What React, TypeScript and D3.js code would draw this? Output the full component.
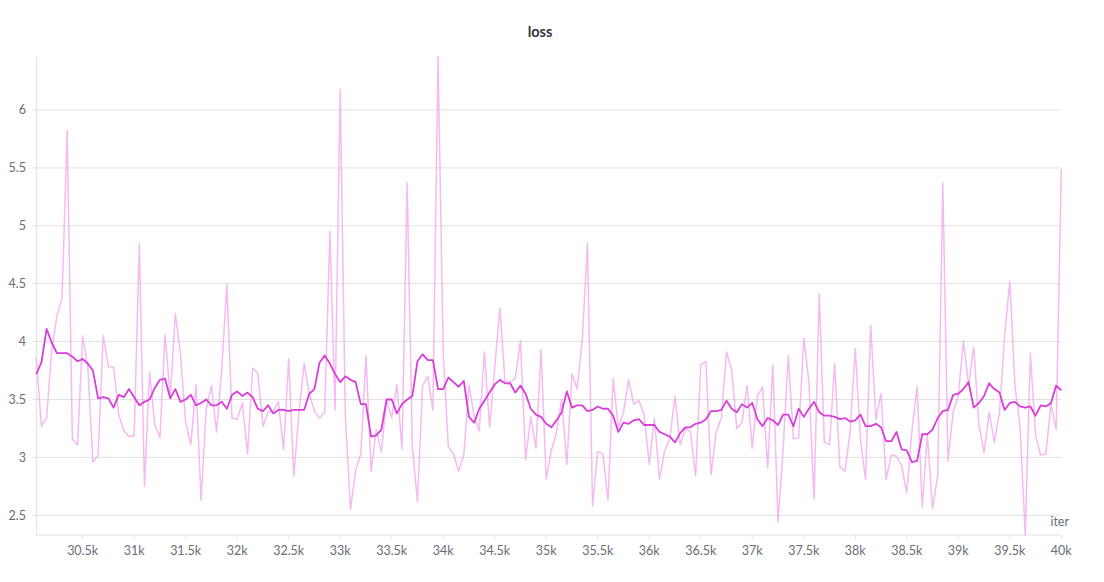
import * as d3 from "d3";

const iterStart = 30050;
const iterStep = 50;

const rawLoss = [
  3.86, 3.27, 3.34, 3.93, 4.22, 4.38, 5.82, 3.16, 3.11, 4.05,
  3.78, 2.96, 3.02, 4.05, 3.78, 3.78, 3.37, 3.23, 3.18, 3.19,
  4.85, 2.75, 3.74, 3.28, 3.17, 4.06, 3.52, 4.24, 3.89, 3.3,
  3.11, 3.63, 2.63, 3.42, 3.62, 3.22, 3.76, 4.49, 3.34, 3.33,
  3.47, 3.03, 3.77, 3.73, 3.27, 3.39, 3.4, 3.48, 3.07, 3.85,
  2.84, 3.39, 3.81, 3.55, 3.4, 3.34, 3.39, 4.95, 3.41, 6.18,
  3.35, 2.55, 2.89, 3.03, 3.88, 2.88, 3.24, 3.05, 3.5, 3.34,
  3.63, 3.07, 5.37, 3.1, 2.62, 3.62, 3.7, 3.41, 6.46, 3.9,
  3.09, 3.03, 2.88, 3.02, 3.62, 3.36, 3.23, 3.91, 3.26, 3.77,
  4.29, 3.66, 3.65, 3.68, 4.01, 2.98, 3.35, 3.08, 3.93, 2.81,
  3.06, 3.22, 3.5, 2.94, 3.72, 3.59, 4.02, 4.85, 2.58, 3.05,
  3.03, 2.63, 3.68, 3.26, 3.39, 3.67, 3.46, 3.49, 3.37, 2.94,
  3.34, 2.81, 3.06, 3.16, 3.53, 3.11, 3.25, 3.22, 2.84, 3.8,
  3.83, 2.85, 3.22, 3.34, 3.91, 3.76, 3.25, 3.3, 3.62, 3.08,
  3.53, 3.61, 2.91, 3.8, 2.44, 3.07, 3.88, 3.16, 3.17, 4.03,
  3.65, 2.64, 4.41, 3.13, 3.11, 3.81, 2.92, 2.88, 3.22, 3.94,
  3.16, 2.81, 4.14, 3.33, 3.55, 2.81, 3.02, 3.01, 2.93, 2.69,
  3.23, 3.61, 2.57, 3.19, 2.56, 2.84, 5.37, 2.97, 3.39, 3.53,
  4.01, 3.62, 3.95, 3.29, 3.04, 3.39, 3.13, 3.39, 4.05, 4.52,
  3.62, 3.26, 2.33, 3.9, 3.19, 3.02, 3.03, 3.46, 3.24, 5.49,
];

const smoothLoss = [
  3.72, 3.82, 4.11, 3.99, 3.9, 3.9, 3.9, 3.87, 3.83, 3.85,
  3.81, 3.75, 3.51, 3.52, 3.51, 3.43, 3.54, 3.52, 3.59, 3.52,
  3.45, 3.48, 3.5, 3.6, 3.67, 3.68, 3.51, 3.59, 3.48, 3.5,
  3.54, 3.45, 3.47, 3.5, 3.45, 3.45, 3.48, 3.42, 3.54, 3.57,
  3.53, 3.56, 3.52, 3.42, 3.4, 3.45, 3.38, 3.41, 3.41, 3.4,
  3.41, 3.41, 3.41, 3.55, 3.59, 3.82, 3.88, 3.81, 3.72, 3.65,
  3.7, 3.67, 3.65, 3.46, 3.46, 3.18, 3.19, 3.24, 3.5, 3.5,
  3.38, 3.46, 3.5, 3.53, 3.83, 3.89, 3.84, 3.84, 3.59, 3.59,
  3.69, 3.65, 3.61, 3.66, 3.35, 3.3, 3.42, 3.49, 3.56, 3.63,
  3.67, 3.64, 3.64, 3.56, 3.62, 3.55, 3.42, 3.37, 3.35, 3.29,
  3.26, 3.32, 3.39, 3.57, 3.43, 3.45, 3.45, 3.4, 3.41, 3.44,
  3.42, 3.42, 3.36, 3.22, 3.3, 3.29, 3.32, 3.33, 3.28, 3.28,
  3.28, 3.22, 3.2, 3.18, 3.13, 3.21, 3.26, 3.26, 3.29, 3.3,
  3.33, 3.4, 3.4, 3.41, 3.49, 3.42, 3.39, 3.46, 3.43, 3.47,
  3.33, 3.27, 3.34, 3.32, 3.28, 3.37, 3.37, 3.27, 3.42, 3.35,
  3.42, 3.48, 3.39, 3.36, 3.36, 3.35, 3.33, 3.34, 3.31, 3.32,
  3.37, 3.27, 3.27, 3.29, 3.26, 3.14, 3.14, 3.22, 3.07, 3.06,
  2.96, 2.97, 3.2, 3.2, 3.24, 3.34, 3.4, 3.41, 3.54, 3.55,
  3.59, 3.65, 3.43, 3.47, 3.53, 3.64, 3.59, 3.56, 3.41, 3.47,
  3.48, 3.44, 3.43, 3.44, 3.36, 3.45, 3.44, 3.47, 3.62, 3.58,
];

const xTicks = [30500, 31000, 31500, 32000, 32500, 33000, 33500, 34000, 34500, 35000,
  35500, 36000, 36500, 37000, 37500, 38000, 38500, 39000, 39500, 40000];
const yTicks = [2.5, 3, 3.5, 4, 4.5, 5, 5.5, 6];

const width = 1104;
const height = 582;
const margin = { top: 56.7, right: 42.7, bottom: 47, left: 36.3 };
const font = "Lato, 'Open Sans', sans-serif";
const axisColor = "#6b6c76";
const gridColor = "#e2e2e2";

export default function App() {
  const iters = rawLoss.map((_, i) => iterStart + i * iterStep);

  const x = d3
    .scaleLinear()
    .domain(d3.extent(iters) as [number, number])
    .range([margin.left, width - margin.right]);

  const y = d3
    .scaleLinear()
    .domain(d3.extent(rawLoss) as [number, number])
    .range([height - margin.bottom, margin.top]);

  const line = d3
    .line<number>()
    .x((_, i) => x(iters[i]))
    .y((d) => y(d));

  const fmtX = (v: number) => `${d3.format("~g")(v / 1000)}k`;
  const bottom = height - margin.bottom;
  const left = margin.left;
  const right = width - margin.right;

  return (
    <svg
      width={width}
      height={height}
      style={{ position: "absolute", left: 0, top: 0, background: "#fff" }}
      fontFamily={font}
    >
      <text x={540} y={37} textAnchor="middle" fontSize={14.5} fontWeight={700} fill="#35353d">
        loss
      </text>

      {yTicks.map((t) => (
        <g key={t}>
          <line x1={left} x2={right} y1={y(t)} y2={y(t)} stroke={gridColor} strokeWidth={1} />
          <line x1={left - 4} x2={left} y1={y(t)} y2={y(t)} stroke={gridColor} strokeWidth={1} />
          <text x={26} y={y(t)} dy="0.35em" textAnchor="end" fontSize={12.5} fill={axisColor}>
            {t}
          </text>
        </g>
      ))}

      <line x1={left} x2={left} y1={margin.top} y2={bottom} stroke={gridColor} strokeWidth={1} />
      <line x1={left} x2={right} y1={bottom} y2={bottom} stroke={gridColor} strokeWidth={1} />

      {xTicks.map((t) => (
        <g key={t}>
          <line x1={x(t)} x2={x(t)} y1={bottom} y2={bottom + 4} stroke={gridColor} strokeWidth={1} />
          <text x={x(t)} y={555} textAnchor="middle" fontSize={12.5} fill={axisColor}>
            {fmtX(t)}
          </text>
        </g>
      ))}

      <text x={1069} y={526} textAnchor="end" fontSize={12.5} fill={axisColor}>
        iter
      </text>

      <path d={line(rawLoss) ?? ""} fill="none" stroke="#f2a9ef" strokeOpacity={0.8} strokeWidth={1.5} strokeLinejoin="round" />
      <path d={line(smoothLoss) ?? ""} fill="none" stroke="#d83ed8" strokeWidth={1.8} strokeLinejoin="round" />
    </svg>
  );
}
